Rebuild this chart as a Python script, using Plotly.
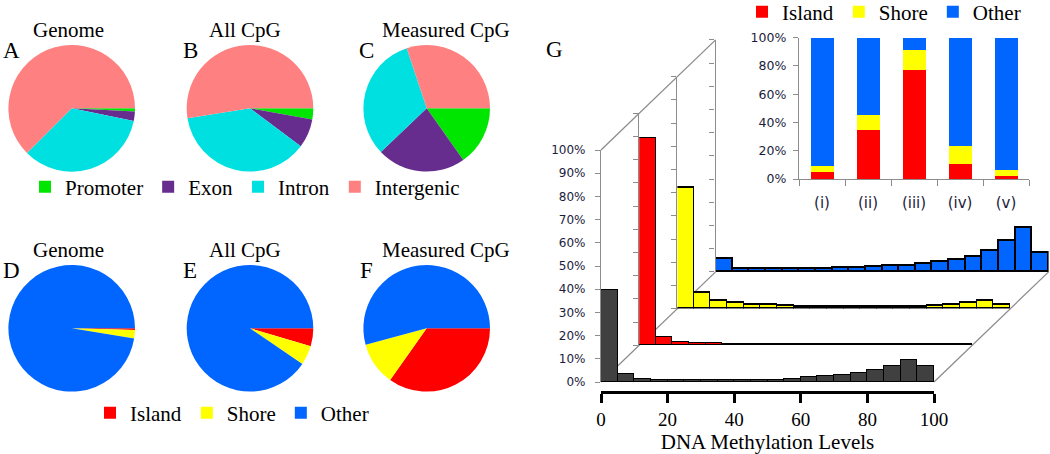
import plotly.graph_objects as go

W, H = 1050, 454

# ---------------- data ----------------
region_labels = ["Promoter", "Exon", "Intron", "Intergenic"]
region_colors = ["#00E600", "#662D8F", "#00E0E0", "#FF8080"]
genome_region = [0.8, 2.4, 34.3, 62.5]
allcpg_region = [2.8, 7.4, 37.3, 52.5]
measured_region = [15.2, 22.7, 32.0, 30.1]

cgi_labels = ["Island", "Shore", "Other"]
cgi_colors = ["#FF0000", "#FFFF00", "#0066FF"]
genome_cgi = [0.4, 2.2, 97.4]
allcpg_cgi = [4.6, 4.9, 90.5]
measured_cgi = [34.8, 11.0, 54.2]

pie_titles = ["Genome", "All CpG", "Measured CpG"]
top_letters = ["A", "B", "C"]
bottom_letters = ["D", "E", "F"]

# methylation level bins (left edges, width 5)
bin_left = [0, 5, 10, 15, 20, 25, 30, 35, 40, 45, 50, 55, 60, 65, 70, 75, 80, 85, 90, 95]
all_hist = [39.5, 3.4, 1.5, 1.0, 1.0, 1.0, 1.0, 1.0, 1.0, 1.0, 1.0, 1.5, 2.1, 2.4, 3.0, 3.8, 5.0, 7.1, 9.4, 6.8]
island_hist = [89.3, 3.3, 1.1, 0.7, 0.7, 0.4, 0.4, 0.35, 0.35, 0.35, 0.35, 0.35, 0.35, 0.35, 0.35, 0.35, 0.35, 0.35, 0.4, 0.4]
shore_hist = [52.0, 7.0, 3.6, 2.6, 1.7, 1.6, 1.4, 1.0, 0.7, 0.7, 0.7, 0.7, 0.7, 0.7, 1.0, 1.5, 1.9, 2.6, 3.6, 1.6]
other_hist = [5.5, 1.1, 1.1, 1.1, 1.1, 1.1, 1.1, 1.8, 1.8, 2.1, 2.6, 2.6, 3.4, 4.2, 5.2, 6.6, 9.1, 13.3, 18.8, 8.4]
hist_series = [all_hist, island_hist, shore_hist, other_hist]
hist_colors = ["#404040", "#FF0000", "#FFFF00", "#0066FF"]
x_ticks = [0, 20, 40, 60, 80, 100]

groups = ["(i)", "(ii)", "(iii)", "(iv)", "(v)"]
grp_island = [5.0, 34.7, 77.4, 10.6, 2.1]
grp_shore = [4.4, 10.8, 14.3, 13.0, 4.7]
grp_other = [90.6, 54.5, 8.3, 76.4, 93.2]

# ---------------- helpers ----------------
def px_x(v):
    return v / W

def px_y(v):
    return 1 - v / H

SERIF = "Liberation Serif"
SANS = "DejaVu Sans"
TICKCOL = "#1c1c3c"
AXCOL = "#8c8c8c"

fig = go.Figure()

# ---------------- pies ----------------
pie_cx = [71.7, 250.0, 426.7]
pie_cy = [108.3, 328.3]
R = 63.3
rows = [
    (region_labels, region_colors, [genome_region, allcpg_region, measured_region], "legend"),
    (cgi_labels, cgi_colors, [genome_cgi, allcpg_cgi, measured_cgi], "legend2"),
]
for r, (labs, cols, vals_list, leg) in enumerate(rows):
    for c, vals in enumerate(vals_list):
        cx, cy = pie_cx[c], pie_cy[r]
        fig.add_trace(go.Pie(
            labels=labs, values=vals, sort=False, direction="clockwise", rotation=90,
            marker=dict(colors=cols, line=dict(width=0)), textinfo="none",
            domain=dict(x=[px_x(cx - R), px_x(cx + R)], y=[px_y(cy + R), px_y(cy - R)]),
            legend=leg, showlegend=True, hoverinfo="label+percent",
        ))

annotations = []
title_dx = [-3, -5, 19]
for r in range(2):
    for c in range(3):
        annotations.append(dict(text=pie_titles[c], x=px_x(pie_cx[c] + title_dx[c]), y=px_y(pie_cy[r] - 78),
                                xref="paper", yref="paper", showarrow=False,
                                font=dict(family=SERIF, size=21, color="black"), xanchor="center", yanchor="middle"))
    letters = top_letters if r == 0 else bottom_letters
    for c in range(3):
        annotations.append(dict(text=letters[c], x=px_x(pie_cx[c] - 60), y=px_y(pie_cy[r] - 58),
                                xref="paper", yref="paper", showarrow=False,
                                font=dict(family=SERIF, size=23, color="black"), xanchor="center", yanchor="middle"))
annotations.append(dict(text="G", x=px_x(554), y=px_y(50), xref="paper", yref="paper", showarrow=False,
                        font=dict(family=SERIF, size=23, color="black"), xanchor="center", yanchor="middle"))

# ---------------- pseudo-3D histogram panels ----------------
FX0, FX1, FYB, FYT = 601.0, 934.0, 382.0, 150.0
DX, DY = 38.2, -36.7
layout_axes = {}
for i, (vals, col) in enumerate(zip(hist_series, hist_colors)):
    n = i + 1
    xa = "x" if n == 1 else f"x{n}"
    ya = "y" if n == 1 else f"y{n}"
    fig.add_trace(go.Bar(
        x=[b + 2.5 for b in bin_left], y=vals, width=5,
        marker=dict(color=col, line=dict(color="black", width=1.5)),
        xaxis=xa, yaxis=ya, showlegend=False, hoverinfo="x+y",
    ))
    x0 = FX0 + i * DX
    yb = FYB + i * DY
    xkey = "xaxis" if n == 1 else f"xaxis{n}"
    ykey = "yaxis" if n == 1 else f"yaxis{n}"
    if n == 1:
        layout_axes[xkey] = dict(domain=[px_x(x0), px_x(x0 + 333)], range=[0, 100], anchor="free",
                                 position=px_y(392), showline=True, linecolor="black", linewidth=3,
                                 ticks="outside", ticklen=9, tickwidth=3, tickcolor="black",
                                 tickvals=x_ticks, showgrid=False, zeroline=False,
                                 tickfont=dict(family=SERIF, size=19, color="black"),
                                 title=dict(text="DNA Methylation Levels", standoff=4,
                                            font=dict(family=SERIF, size=21, color="black")))
    else:
        layout_axes[xkey] = dict(domain=[px_x(x0), px_x(x0 + 333)], range=[0, 100], anchor=ya,
                                 visible=False, showgrid=False, zeroline=False)
    layout_axes[ykey] = dict(domain=[px_y(yb), px_y(yb - 232)], range=[0, 100], anchor=xa,
                             showline=True, linecolor=AXCOL, linewidth=1.3, ticks="outside", ticklen=5,
                             tickcolor=AXCOL, tickwidth=1.3, dtick=10, showgrid=False, zeroline=False,
                             showticklabels=(n == 1), ticksuffix="%", ticklabelstandoff=7,
                             tickfont=dict(family=SANS, size=12, color=TICKCOL))

# perspective edges of the box (decoration)
shapes = []
bx0 = FX0 + 3 * DX
byb = FYB + 3 * DY
for (xa_, ya_, xb_, yb_) in [(FX0, FYT, bx0, byb - 232), (FX0, FYB, bx0, byb), (FX1, FYB, bx0 + 333, byb)]:
    shapes.append(dict(type="line", xref="paper", yref="paper", x0=px_x(xa_), y0=px_y(ya_),
                       x1=px_x(xb_), y1=px_y(yb_), line=dict(color=AXCOL, width=1.3), layer="below"))

# ---------------- inset stacked bars ----------------
for name, vals, col in zip(cgi_labels, [grp_island, grp_shore, grp_other], cgi_colors):
    fig.add_trace(go.Bar(x=groups, y=vals, name=name, width=0.5, marker=dict(color=col, line=dict(width=0)),
                         xaxis="x5", yaxis="y5", legend="legend3", showlegend=True))
layout_axes["xaxis5"] = dict(domain=[px_x(799), px_x(1029)], anchor="y5", showline=True, linecolor=AXCOL,
                             linewidth=1.3, ticks="outside", ticklen=6, tickcolor=AXCOL, tickwidth=1.3,
                             tickson="boundaries", showgrid=False, ticklabelstandoff=10,
                             tickfont=dict(family=SANS, size=15, color=TICKCOL))
layout_axes["yaxis5"] = dict(domain=[px_y(179), px_y(37.7)], range=[0, 100], anchor="x5", showline=True,
                             linecolor=AXCOL, linewidth=1.3, ticks="outside", ticklen=5, tickcolor=AXCOL,
                             tickwidth=1.3, dtick=20, ticksuffix="%", showgrid=False, zeroline=False,
                             ticklabelstandoff=4, tickfont=dict(family=SANS, size=12.5, color=TICKCOL))

leg_common = dict(orientation="h", font=dict(family=SERIF, size=21, color="black"),
                  bgcolor="rgba(0,0,0,0)", borderwidth=0, itemclick=False, itemdoubleclick=False,
                  xanchor="left", yanchor="middle", traceorder="normal")
fig.update_layout(
    width=W, height=H, margin=dict(l=0, r=0, t=0, b=0, autoexpand=False),
    paper_bgcolor="white", plot_bgcolor="rgba(0,0,0,0)",
    font=dict(family=SERIF, color="black"),
    barmode="stack", bargap=0,
    annotations=annotations, shapes=shapes,
    legend=dict(x=px_x(25), y=px_y(187), **leg_common),
    legend2=dict(x=px_x(90), y=px_y(413), **leg_common),
    legend3=dict(x=px_x(742), y=px_y(12), **leg_common),
    **layout_axes,
)

# remove the browser's default 8px page margin so the figure sits at the window origin
fig.write_html("out.html", config={"displayModeBar": False},
               post_script="document.body.style.margin='0';")
